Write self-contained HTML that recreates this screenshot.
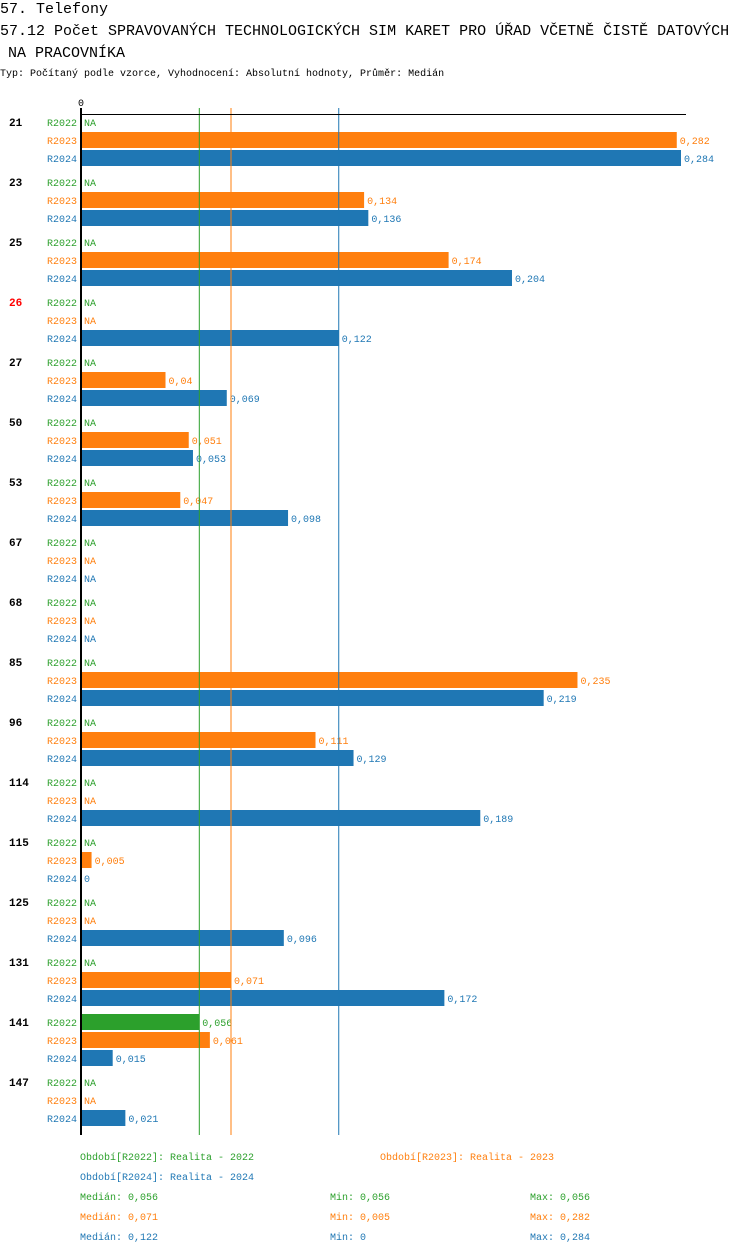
<!DOCTYPE html>
<html><head><meta charset="utf-8">
<style>
body{margin:0;background:#fff;width:750px;height:1254px;overflow:hidden}
svg text{font-family:"Liberation Mono","DejaVu Sans Mono",monospace}
</style></head>
<body>
<svg id="chart" width="750" height="1254" xmlns="http://www.w3.org/2000/svg">
<text x="0" y="13" font-size="15" fill="#000">57. Telefony</text>
<text x="0" y="35" font-size="15" fill="#000">57.12 Počet SPRAVOVANÝCH TECHNOLOGICKÝCH SIM KARET PRO ÚŘAD VČETNĚ ČISTĚ DATOVÝCH</text>
<text x="8" y="57" font-size="15" fill="#000">NA PRACOVNÍKA</text>
<text x="0" y="76" font-size="10" fill="#000">Typ: Počítaný podle vzorce, Vyhodnocení: Absolutní hodnoty, Průměr: Medián</text>
<g id="plot"></g>
<g id="legend">
<text x="80" y="1160" font-size="10" fill="#2ca02c">Období[R2022]: Realita - 2022</text>
<text x="380" y="1160" font-size="10" fill="#ff7f0e">Období[R2023]: Realita - 2023</text>
<text x="80" y="1180" font-size="10" fill="#1f77b4">Období[R2024]: Realita - 2024</text>
</g>
</svg>
<script>
const categories = ["21","23","25","26","27","50","53","67","68","85","96","114","115","125","131","141","147"];
const r2022 = [null,null,null,null,null,null,null,null,null,null,null,null,null,null,null,0.056,null];
const r2023 = [0.282,0.134,0.174,null,0.04,0.051,0.047,null,null,0.235,0.111,null,0.005,null,0.071,0.061,null];
const r2024 = [0.284,0.136,0.204,0.122,0.069,0.053,0.098,null,null,0.219,0.129,0.189,0,0.096,0.172,0.015,0.021];
const highlighted = ["26"];
const seriesNames = ["R2022","R2023","R2024"];
const medians = [0.056,0.071,0.122];
const mins = [0.056,0.005,0];
const maxs = [0.056,0.282,0.284];

const colors = ["#2ca02c","#ff7f0e","#1f77b4"];
const series = [r2022,r2023,r2024];
const NS = "http://www.w3.org/2000/svg";
const plot = document.getElementById('plot');
const legend = document.getElementById('legend');
const x0 = 81, scaleMax = 0.284, pxMax = 600;
const xScale = v => x0 + v / scaleMax * pxMax;
const yRow = (g, r) => 122 + 60 * g + 18 * r;
const fmt = v => String(v).replace('.', ',');
function mk(tag, attrs, parent) {
  const e = document.createElementNS(NS, tag);
  for (const k in attrs) e.setAttribute(k, attrs[k]);
  parent.appendChild(e);
  return e;
}
const yEnd = yRow(categories.length - 1, 2) + 17;

categories.forEach((c, g) => {
  const t = mk('text', {x: 9, y: yRow(g, 0) + 4, 'font-size': 11, 'font-weight': 'bold', fill: highlighted.includes(c) ? '#ff0000' : '#000'}, plot);
  
  
  t.textContent = c;
  series.forEach((s, r) => {
    const y = yRow(g, r);
    const lab = mk('text', {x: 47, y: y + 4, 'font-size': 10, fill: colors[r]}, plot);
    
    
    lab.textContent = seriesNames[r];
    const v = s[g];
    let tx = x0 + 3;
    if (v !== null) {
      const w = xScale(v) - x0;
      if (w > 0) {
        const b = mk('rect', {x: x0, y: y - 8, width: w, height: 16, fill: colors[r]}, plot);
        
        
        tx = xScale(v) + 3;
      }
    }
    const vt = mk('text', {x: tx, y: y + 4, 'font-size': 10, fill: colors[r]}, plot);
    
    
    vt.textContent = v === null ? 'NA' : fmt(v);
  });
});

medians.forEach((m, i) => {
  const l = mk('line', {x1: xScale(m), x2: xScale(m), y1: 108, y2: yEnd, stroke: colors[i], 'stroke-width': 1}, plot);
  
  
});

const topLine = mk('line', {x1: x0, x2: 686, y1: 114.5, y2: 114.5, stroke: '#000', 'stroke-width': 1}, plot);


const yAxis = mk('line', {x1: 81, x2: 81, y1: 108, y2: yEnd, stroke: '#000', 'stroke-width': 2}, plot);


const zero = mk('text', {x: 78, y: 106, 'font-size': 10, fill: '#000'}, plot);


zero.textContent = '0';

seriesNames.forEach((n, i) => {
  const y = 1200 + 20 * i;
  const a = mk('text', {x: 80, y: y, 'font-size': 10, fill: colors[i]}, legend);
  
  
  a.textContent = 'Medián: ' + fmt(medians[i]);
  const b = mk('text', {x: 330, y: y, 'font-size': 10, fill: colors[i]}, legend);
  
  
  b.textContent = 'Min: ' + fmt(mins[i]);
  const d = mk('text', {x: 530, y: y, 'font-size': 10, fill: colors[i]}, legend);
  
  
  d.textContent = 'Max: ' + fmt(maxs[i]);
});
</script>
</body></html>
